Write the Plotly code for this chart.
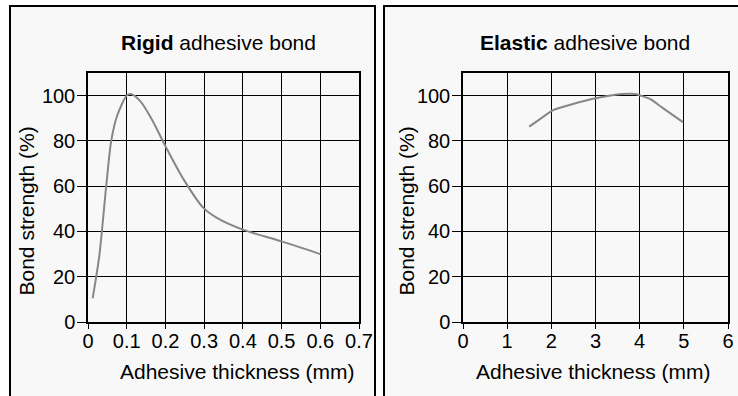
import plotly.graph_objects as go

# Data
rigid_x = [0.012, 0.029, 0.047, 0.06, 0.075, 0.1, 0.11, 0.135, 0.165, 0.2, 0.247, 0.298, 0.333, 0.4, 0.5, 0.6]
rigid_y = [10.5, 29, 60, 80, 91, 100, 100.7, 97.6, 89.5, 77.7, 63, 50.4, 46, 40.8, 35.6, 30]
elastic_x = [1.5, 1.79, 2.04, 2.47, 3.0, 3.6, 3.9, 4.25, 4.51, 4.98]
elastic_y = [86.3, 90.3, 93.6, 96.2, 98.8, 100.7, 100.7, 98.4, 94.7, 88.3]
rigid_ticks = [0, 0.1, 0.2, 0.3, 0.4, 0.5, 0.6, 0.7]
rigid_ticktext = ["0", "0.1", "0.2", "0.3", "0.4", "0.5", "0.6", "0.7"]
elastic_ticks = [0, 1, 2, 3, 4, 5, 6]
y_ticks = [0, 20, 40, 60, 80, 100]

W, H = 738, 396
FONT = "Liberation Sans, Arial, Helvetica, sans-serif"
FS = 21
TFS = 20

def px(x):
    return x / W

def py(y):
    return 1 - y / H

fig = go.Figure()
fig.add_trace(go.Scatter(x=rigid_x, y=rigid_y, mode="lines", line=dict(color="#878787", width=2, shape="spline", smoothing=0.8),
                         xaxis="x", yaxis="y", showlegend=False))
fig.add_trace(go.Scatter(x=elastic_x, y=elastic_y, mode="lines", line=dict(color="#878787", width=2, shape="spline", smoothing=0.5),
                         xaxis="x2", yaxis="y2", showlegend=False))

common_axis = dict(showgrid=True, gridcolor="black", gridwidth=1, showline=True, linecolor="black", linewidth=1.5,
                   mirror=True, ticks="outside", tickcolor="black", tickwidth=1, automargin=False,
                   tickfont=dict(family=FONT, size=TFS, color="black"), zeroline=False, fixedrange=True)
x_axis = dict(ticklen=5, ticklabelstandoff=-5, **common_axis)
y_axis = dict(ticklen=9, ticklabelstandoff=-2, **common_axis)

ydom = [py(322), py(73)]
fig.update_layout(
    width=W, height=H,
    margin=dict(l=0, r=0, t=0, b=0, pad=0),
    paper_bgcolor="white",
    plot_bgcolor="#f2f2f2",
    xaxis=dict(domain=[px(88), px(359)], range=[0, 0.7], tickvals=rigid_ticks, ticktext=rigid_ticktext, anchor="y", **x_axis),
    yaxis=dict(domain=ydom, range=[0, 110], tickvals=y_ticks, anchor="x", **y_axis),
    xaxis2=dict(domain=[px(463), px(728)], range=[0, 6], tickvals=elastic_ticks, anchor="y2", **x_axis),
    yaxis2=dict(domain=ydom, range=[0, 110], tickvals=y_ticks, anchor="x2", **y_axis),
    shapes=[
        dict(type="rect", xref="paper", yref="paper", x0=px(10), x1=px(375), y0=py(420), y1=py(6),
             line=dict(color="black", width=2), fillcolor="#f8f8f8", layer="below"),
        dict(type="rect", xref="paper", yref="paper", x0=px(384), x1=px(760), y0=py(420), y1=py(6),
             line=dict(color="black", width=2), fillcolor="#f8f8f8", layer="below"),
    ],
    annotations=[
        dict(text="<b>Rigid</b> adhesive bond", x=px(218), y=py(42), xref="paper", yref="paper", showarrow=False,
             xanchor="center", yanchor="middle", font=dict(family=FONT, size=FS, color="black")),
        dict(text="<b>Elastic</b> adhesive bond", x=px(585), y=py(42), xref="paper", yref="paper", showarrow=False,
             xanchor="center", yanchor="middle", font=dict(family=FONT, size=FS, color="black")),
        dict(text="Adhesive thickness (mm)", x=px(237), y=py(371), xref="paper", yref="paper", showarrow=False,
             xanchor="center", yanchor="middle", font=dict(family=FONT, size=FS, color="black")),
        dict(text="Adhesive thickness (mm)", x=px(593), y=py(371), xref="paper", yref="paper", showarrow=False,
             xanchor="center", yanchor="middle", font=dict(family=FONT, size=FS, color="black")),
        dict(text="Bond strength (%)", x=px(39), y=py(211), xref="paper", yref="paper", showarrow=False, textangle=-90,
             xanchor="right", yanchor="middle", font=dict(family=FONT, size=FS, color="black")),
        dict(text="Bond strength (%)", x=px(419), y=py(211), xref="paper", yref="paper", showarrow=False, textangle=-90,
             xanchor="right", yanchor="middle", font=dict(family=FONT, size=FS, color="black")),
    ],
)

fig.write_html("out.html", config={"displayModeBar": False},
               post_script="document.body.style.margin='0px';document.body.style.padding='0px';document.body.style.overflow='hidden';")
